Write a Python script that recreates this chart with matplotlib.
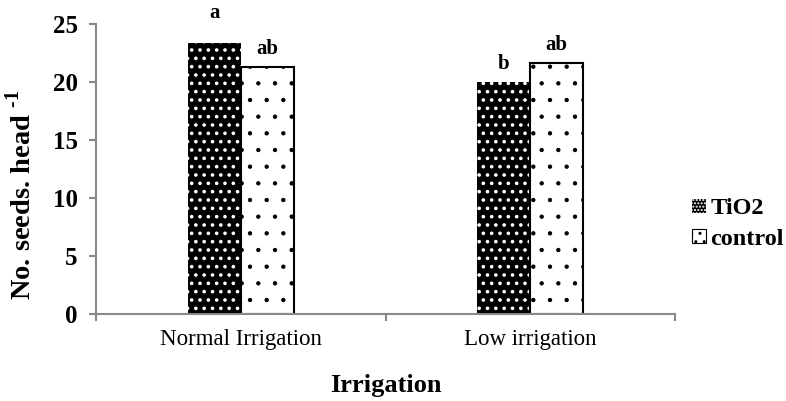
import matplotlib
matplotlib.use("Agg")
import matplotlib.pyplot as plt
import numpy as np
from matplotlib.patches import Patch

categories = ["Normal Irrigation", "Low irrigation"]
tio2 = [23.4, 20.0]
control = [21.3, 21.6]
tio2_letters = ["a", "b"]
control_letters = ["ab", "ab"]

plt.rcParams['font.family'] = ['Liberation Serif', 'DejaVu Serif']
plt.rcParams['mathtext.fontset'] = 'custom'
plt.rcParams['mathtext.rm'] = 'Liberation Serif:bold'
plt.rcParams['mathtext.bf'] = 'Liberation Serif:bold'

fig = plt.figure(figsize=(7.86, 4.01), dpi=100)
ax = fig.add_axes([0.122, 0.217, 0.737, 0.723])

x = np.arange(len(categories)) + 0.5
w = 0.183
with plt.rc_context({'hatch.linewidth': 1.4}):
    b1 = ax.bar(x - w/2, tio2, w, facecolor='black', edgecolor='white', hatch='..', linewidth=0)
    h1 = Patch(facecolor='black', edgecolor='white', hatch='.....', linewidth=0)
with plt.rc_context({'hatch.linewidth': 0.7}):
    b2 = ax.bar(x + w/2, control, w, facecolor='white', edgecolor='black', hatch='.', linewidth=0)
    h2 = Patch(facecolor='white', edgecolor='black', hatch='..', linewidth=0)
ax.bar(x + w/2, control, w, facecolor='none', edgecolor='black', linewidth=1.5)

tio2_offsets = [14, 6]
control_offsets = [6, 6]
for xi, v, t, o in zip(x - w/2, tio2, tio2_letters, tio2_offsets):
    ax.annotate(t, (xi, v), xytext=(0, o), textcoords='offset points', ha='center', va='bottom',
                fontsize=15, fontweight='bold')
for xi, v, t, o in zip(x + w/2, control, control_letters, control_offsets):
    ax.annotate(t, (xi, v), xytext=(0, o), textcoords='offset points', ha='center', va='bottom',
                fontsize=15, fontweight='bold')

ax.set_xlim(0, 2)
ax.set_ylim(0, 25)
ax.set_yticks([0, 5, 10, 15, 20, 25])
ax.set_xticks([0, 1, 2])
ax.set_xticklabels([])
ax.set_xticks(x, minor=True)
ax.set_xticklabels(categories, minor=True, fontsize=16.5)
ax.tick_params(axis='x', which='minor', length=0, pad=11)
ax.tick_params(axis='x', which='major', length=5, color='#888888', width=1.5)
ax.tick_params(axis='y', length=5, color='#888888', width=1.5, labelsize=18, pad=8)
for lab in ax.get_yticklabels():
    lab.set_fontweight('bold')

for s in ['top', 'right']:
    ax.spines[s].set_visible(False)
for s in ['left', 'bottom']:
    ax.spines[s].set_color('#888888')
    ax.spines[s].set_linewidth(1.5)

ax.set_ylabel('No. seeds. head $^{\\text{-1}}$', fontsize=20.5, fontweight='bold')
ax.yaxis.set_label_coords(-0.102, 0.41)
ax.set_xlabel('Irrigation', fontsize=19, fontweight='bold', labelpad=17)

leg = ax.legend([h1, h2], ['TiO2', 'control'], loc='center left', bbox_to_anchor=(1.0, 0.31),
                frameon=False, prop={'weight': 'bold', 'size': 17.5}, handlelength=0.55,
                handleheight=0.55, handletextpad=0.2, labelspacing=0.38, borderaxespad=0.3)
for p in leg.get_patches()[1:]:
    p.set_edgecolor('black')
    p.set_linewidth(0.8)

fig.savefig('out.png', dpi=100)
